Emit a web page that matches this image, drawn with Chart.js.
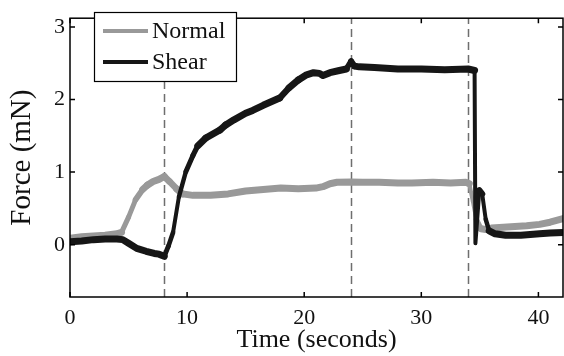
<!DOCTYPE html>
<html>
<head>
<meta charset="utf-8">
<script src="https://cdn.jsdelivr.net/npm/chart.js@4/dist/chart.umd.min.js"></script>
<style>
  html, body { margin: 0; padding: 0; background: #fff; }
  #wrap { width: 564px; height: 356px; position: relative; }
</style>
</head>
<body>
<div id="wrap"><canvas id="c" width="564" height="356"></canvas></div>
<script>
// ---- data ----
const seriesNames = ["Normal", "Shear"];

const normalTime  = [0, 1, 2, 3, 4, 4.4, 5.0, 5.6, 6.2, 6.6, 7.1, 7.6, 8.05, 8.5, 9.1, 9.6, 10.5, 12, 13.5, 15, 16.5, 18, 19.5, 21, 21.6, 22.2, 22.8, 24, 25, 26.4, 28, 29.2, 31, 32.5, 33.8, 34.1, 34.4, 34.7, 35.1, 35.5, 36, 37, 38, 39, 40.1, 41, 42.1];
const normalForce = [0.09, 0.11, 0.12, 0.13, 0.15, 0.17, 0.38, 0.62, 0.76, 0.82, 0.87, 0.90, 0.94, 0.87, 0.77, 0.70, 0.68, 0.68, 0.70, 0.74, 0.76, 0.78, 0.77, 0.78, 0.80, 0.84, 0.86, 0.865, 0.86, 0.86, 0.85, 0.85, 0.86, 0.85, 0.86, 0.84, 0.60, 0.35, 0.22, 0.21, 0.23, 0.24, 0.25, 0.26, 0.28, 0.31, 0.36];

const shearTime  = [0, 1, 2, 3, 4, 4.5, 5, 5.7, 6.5, 7.2, 7.6, 8.05, 8.4, 8.8, 9.3, 9.9, 10.5, 10.9, 11.6, 12.8, 13.3, 14, 15, 15.6, 16.5, 17.9, 18.7, 19.5, 20.2, 20.8, 21.3, 21.6, 22.2, 23, 23.6, 24.0, 24.3, 24.7, 26, 28, 30, 32, 34, 34.55, 34.62, 34.75, 34.95, 35.2, 35.5, 35.8, 36.3, 37.2, 38.5, 40.1, 41, 42.1];
const shearForce = [0.04, 0.05, 0.07, 0.08, 0.08, 0.07, 0.02, -0.05, -0.09, -0.12, -0.13, -0.16, -0.02, 0.17, 0.66, 1.01, 1.23, 1.36, 1.47, 1.58, 1.65, 1.72, 1.81, 1.85, 1.92, 2.02, 2.16, 2.27, 2.34, 2.37, 2.36, 2.33, 2.37, 2.40, 2.42, 2.53, 2.46, 2.45, 2.44, 2.42, 2.42, 2.41, 2.42, 2.40, 0.02, 0.30, 0.75, 0.70, 0.35, 0.19, 0.15, 0.13, 0.13, 0.15, 0.16, 0.17];

const eventTimes = [8, 24, 34];          // dashed vertical markers
const xTicks = [0, 10, 20, 30, 40];
const yTicks = [0, 1, 2, 3];
const xRange = [0, 42.1];
const yRange = [-0.72, 3.12];
const xTitle = "Time (seconds)";
const yTitle = "Force (mN)";

// ---- helpers ----
function pts(t, v) { return t.map((x, i) => ({ x: x, y: v[i] })); }
const SERIF = "'Liberation Serif', 'DejaVu Serif', serif";

// steep parts of the traces look thinner in the reference (noise is vertical)
function segWidth(ctx) {
  const dx = Math.abs(ctx.p1.x - ctx.p0.x);
  const dy = Math.abs(ctx.p1.y - ctx.p0.y);
  const ang = Math.atan2(dy, dx) * 180 / Math.PI;
  const f = Math.min(1, Math.max(0, (ang - 40) / 40));
  return 7 - 3 * f;
}

const framePlugin = {
  id: 'frame',
  beforeDatasetsDraw(chart) {
    const { ctx, chartArea: a, scales: { x } } = chart;
    ctx.save();
    ctx.strokeStyle = '#6e6e6e';
    ctx.lineWidth = 1.5;
    ctx.setLineDash([8, 5]);
    eventTimes.forEach(t => {
      const px = Math.round(x.getPixelForValue(t)) + 0.5;
      ctx.beginPath();
      ctx.moveTo(px, a.bottom);
      ctx.lineTo(px, a.top);
      ctx.stroke();
    });
    ctx.restore();
  },
  afterDatasetsDraw(chart) {
    const { ctx, chartArea: a, scales: { x, y } } = chart;
    ctx.save();
    ctx.strokeStyle = '#000';
    ctx.lineWidth = 1.5;
    ctx.setLineDash([]);
    // inward ticks
    const tl = 5;
    ctx.beginPath();
    xTicks.forEach(t => {
      const px = x.getPixelForValue(t);
      ctx.moveTo(px, a.bottom); ctx.lineTo(px, a.bottom - tl);
      ctx.moveTo(px, a.top); ctx.lineTo(px, a.top + tl);
    });
    yTicks.forEach(v => {
      const py = y.getPixelForValue(v);
      ctx.moveTo(a.left, py); ctx.lineTo(a.left + tl, py);
      ctx.moveTo(a.right, py); ctx.lineTo(a.right - tl, py);
    });
    ctx.stroke();
    // box
    ctx.strokeRect(a.left, a.top, a.right - a.left, a.bottom - a.top);

    // legend
    const bx = 94, by = 12, bw = 142, bh = 69;
    ctx.fillStyle = '#fff';
    ctx.fillRect(bx, by, bw, bh);
    ctx.lineWidth = 1.2;
    ctx.strokeRect(bx + 0.5, by + 0.5, bw, bh);
    const rows = [31, 62];
    chart.data.datasets.forEach((ds, i) => {
      ctx.strokeStyle = ds.borderColor;
      ctx.lineWidth = 4;
      ctx.beginPath();
      ctx.moveTo(103, rows[i]); ctx.lineTo(148, rows[i]);
      ctx.stroke();
      ctx.fillStyle = '#111';
      ctx.font = "24px " + SERIF;
      ctx.textBaseline = 'middle';
      ctx.textAlign = 'left';
      ctx.fillText(ds.label, 152, rows[i] + 1);
    });
    ctx.restore();
  }
};

const lineCommon = {
  pointRadius: 0,
  tension: 0,
  borderWidth: 7,
  borderCapStyle: 'round',
  borderJoinStyle: 'round',
  segment: { borderWidth: segWidth }
};

new Chart(document.getElementById('c'), {
  type: 'line',
  data: {
    datasets: [
      Object.assign({
        label: seriesNames[0],
        data: pts(normalTime, normalForce),
        borderColor: '#999999',
        order: 2
      }, lineCommon),
      Object.assign({
        label: seriesNames[1],
        data: pts(shearTime, shearForce),
        borderColor: '#161616',
        order: 1
      }, lineCommon)
    ]
  },
  options: {
    responsive: false,
    animation: false,
    layout: { padding: { top: 7, right: 1, left: 0, bottom: 0 } },
    plugins: { legend: { display: false }, tooltip: { enabled: false } },
    scales: {
      x: {
        type: 'linear',
        min: xRange[0], max: xRange[1],
        grid: { display: false, drawTicks: false },
        border: { display: false },
        afterBuildTicks: s => { s.ticks = xTicks.map(v => ({ value: v })); },
        afterFit: s => { s.height = 59; },
        ticks: { color: '#111', padding: 8, maxRotation: 0, font: { family: SERIF, size: 22 } },
        title: { display: true, text: xTitle, color: '#111', padding: 0, font: { family: SERIF, size: 26 } }
      },
      y: {
        type: 'linear',
        min: yRange[0], max: yRange[1],
        grid: { display: false, drawTicks: false },
        border: { display: false },
        afterBuildTicks: s => { s.ticks = yTicks.map(v => ({ value: v })); },
        afterFit: s => { s.width = 70; },
        ticks: { color: '#111', padding: 5, font: { family: SERIF, size: 22 } },
        title: { display: true, text: yTitle, color: '#111', padding: { top: 5, bottom: 0 }, font: { family: SERIF, size: 29 } }
      }
    }
  },
  plugins: [framePlugin]
});
</script>
</body>
</html>
